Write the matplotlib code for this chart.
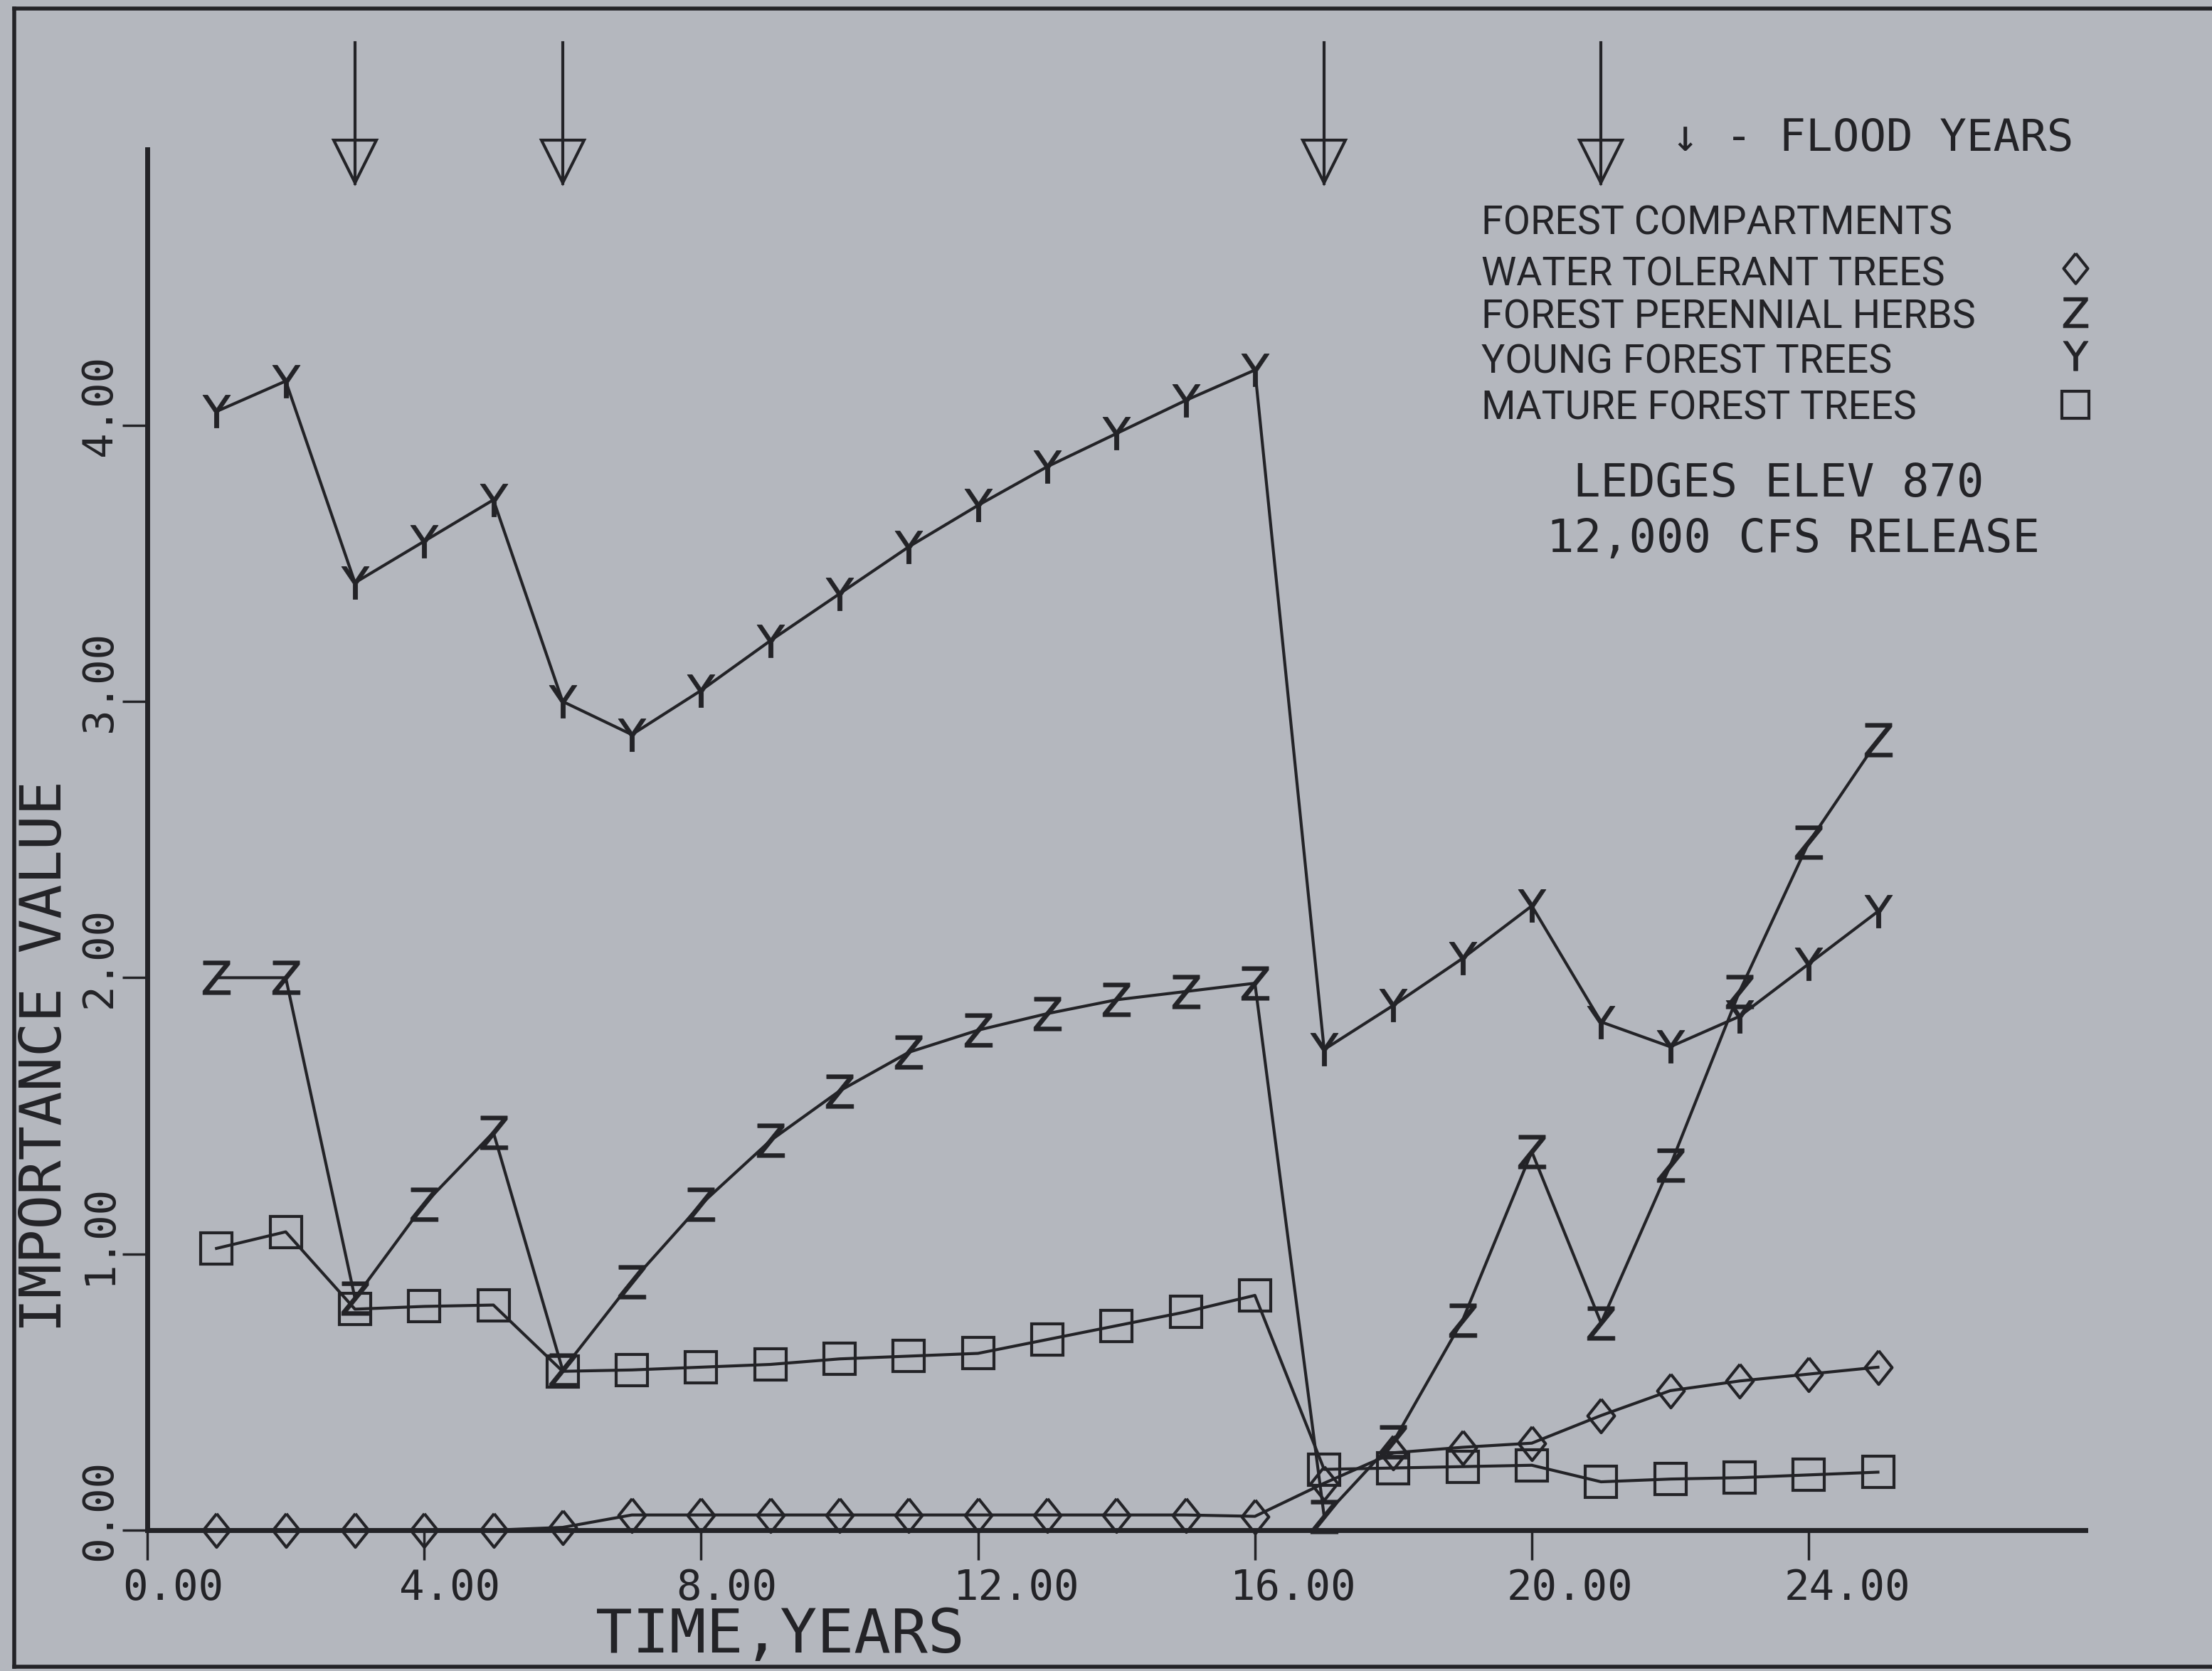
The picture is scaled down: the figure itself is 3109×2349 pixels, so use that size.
import matplotlib
matplotlib.use("Agg")
import matplotlib.pyplot as plt
from matplotlib.transforms import ScaledTranslation
from matplotlib.lines import Line2D

# ---------------- data ----------------
years = list(range(1, 26))
water_tolerant = [0.0, 0.0, 0.0, 0.0, 0.0, 0.01, 0.055, 0.055, 0.055, 0.055,
                  0.055, 0.055, 0.055, 0.055, 0.055, 0.05, 0.17, 0.28, 0.30, 0.315,
                  0.415, 0.505, 0.54, 0.565, 0.59]
perennial_herbs = [2.00, 2.00, 0.84, 1.18, 1.44, 0.58, 0.90, 1.18, 1.41, 1.59,
                   1.73, 1.81, 1.87, 1.92, 1.95, 1.98, 0.05, 0.32, 0.76, 1.37,
                   0.75, 1.32, 1.95, 2.49, 2.86]
young_trees = [4.05, 4.16, 3.43, 3.58, 3.73, 3.00, 2.88, 3.04, 3.22, 3.39,
               3.56, 3.71, 3.85, 3.97, 4.09, 4.20, 1.74, 1.90, 2.07, 2.26,
               1.84, 1.75, 1.86, 2.05, 2.24]
mature_trees = [1.02, 1.08, 0.80, 0.81, 0.815, 0.575, 0.58, 0.59, 0.60, 0.62,
                0.63, 0.64, 0.69, 0.74, 0.79, 0.85, 0.22, 0.225, 0.23, 0.235,
                0.175, 0.185, 0.19, 0.20, 0.21]
flood_years = [3, 6, 17, 21]

x_ticks = [0, 4, 8, 12, 16, 20, 24]
x_tick_labels = ["0.00", "4.00", "8.00", "12.00", "16.00", "20.00", "24.00"]
y_ticks = [0, 1, 2, 3, 4]
y_tick_labels = ["0.00", "1.00", "2.00", "3.00", "4.00"]

legend_title = "FOREST COMPARTMENTS"
legend_labels = ["WATER TOLERANT TREES", "FOREST PERENNIAL HERBS",
                 "YOUNG FOREST TREES", "MATURE FOREST TREES"]

# ---------------- style ----------------
BG = "#b4b7be"
INK = "#232327"
MONO = "DejaVu Sans Mono"
NARROW = ["Roboto", "DejaVu Sans"]

W, H = 3109, 2349
DPI = 100


def fx(px):
    return px / W


def fy(py):
    return 1 - py / H


fig = plt.figure(figsize=(W / DPI, H / DPI), dpi=DPI, facecolor=BG)
ax = fig.add_axes([fx(207), fy(2151), fx(2931.4) - fx(207), fy(209.5) - fy(2151)])
ax.set_facecolor(BG)
ax.patch.set_visible(False)

diamond = [(0, 1), (0.8, 0), (0, -1), (-0.8, 0), (0, 1)]
series = [
    (water_tolerant, diamond, 34),
    (perennial_herbs, r"$\mathrm{Z}$", 34),
    (young_trees, r"$\mathrm{Y}$", 33),
    (mature_trees, "s", 31),
]
for vals, mk, ms in series:
    is_text = isinstance(mk, str) and mk.startswith("$")
    ax.plot(years, vals, color=INK, lw=3.0, zorder=3)
    ax.plot(years, vals, linestyle="none", marker=mk, ms=ms,
            mfc=INK if is_text else "none", mec=INK,
            mew=0.6 if is_text else 3.0, zorder=4, clip_on=False)

ax.set_xlim(0, 28)
ax.set_ylim(0, 5)

# flood arrows
for f in flood_years:
    ax.plot([f, f], [5.385, 4.875], color=INK, lw=3.0, clip_on=False)
    ax.plot([f], [4.955], marker="v", ms=43, mfc="none", mec=INK, mew=3.0,
            linestyle="none", clip_on=False)

# axes
for s in ["top", "right"]:
    ax.spines[s].set_visible(False)
for s in ["left", "bottom"]:
    ax.spines[s].set_linewidth(5)
    ax.spines[s].set_color(INK)

ax.set_xticks(x_ticks)
ax.set_xticklabels(x_tick_labels, fontfamily=MONO, fontsize=42.5, color=INK)
ax.set_yticks(y_ticks)
ax.set_yticklabels(y_tick_labels, fontfamily=MONO, fontsize=42.5, color=INK)
ax.tick_params(axis="x", direction="out", length=30, width=2.5, color=INK, pad=8)
ax.tick_params(axis="y", direction="out", length=25, width=2.5, color=INK, pad=3)

xoff = ScaledTranslation(-35 / DPI, 0, fig.dpi_scale_trans)
for lab in ax.get_xticklabels():
    lab.set_horizontalalignment("left")
    lab.set_transform(lab.get_transform() + xoff)
yoff = ScaledTranslation(0, 28 / DPI, fig.dpi_scale_trans)
for lab in ax.get_yticklabels():
    lab.set_rotation(90)
    lab.set_verticalalignment("center")
    lab.set_horizontalalignment("right")
    lab.set_transform(lab.get_transform() + yoff)

# axis labels
fig.text(fx(64), fy(1485), "IMPORTANCE VALUE", rotation=90, ha="center",
         va="center", fontsize=58, fontfamily=MONO, color=INK)
fig.text(fx(1096), fy(2323), "TIME,YEARS", ha="center", va="baseline",
         fontsize=62, fontfamily=MONO, color=INK)

# legend / annotations
fig.text(fx(2350), fy(212), "\u2193 - FLOOD YEARS", ha="left", va="baseline",
         fontsize=45, fontfamily=MONO, color=INK)
fig.text(fx(2082), fy(330), legend_title, ha="left", va="baseline",
         fontsize=40, fontfamily=NARROW, color=INK)
base_lines = [401, 461, 524, 589]
sym_y = [377, 439, 500, 569]
for lbl, by, sy, (vals, mk, ms) in zip(legend_labels, base_lines, sym_y, series):
    fig.text(fx(2082), fy(by), lbl, ha="left", va="baseline",
             fontsize=40, fontfamily=NARROW, color=INK)
    is_text = isinstance(mk, str) and mk.startswith("$")
    ax.plot([fx(2917)], [fy(sy)], transform=fig.transFigure, linestyle="none",
            marker=mk, ms=ms * 0.9, mfc=INK if is_text else "none", mec=INK,
            mew=0.6 if is_text else 3.0, clip_on=False)

fig.text(fx(2500), fy(698), "LEDGES ELEV 870", ha="center", va="baseline",
         fontsize=46, fontfamily=MONO, color=INK)
fig.text(fx(2520), fy(776), "12,000 CFS RELEASE", ha="center", va="baseline",
         fontsize=46, fontfamily=MONO, color=INK)

# scan frame
frame_kw = dict(transform=fig.transFigure, color=INK, lw=4)
fig.add_artist(Line2D([fx(20), fx(20)], [fy(12), fy(2343)], **frame_kw))
fig.add_artist(Line2D([fx(20), 1.0], [fy(12), fy(12)], **frame_kw))
fig.add_artist(Line2D([fx(20), 1.0], [fy(2343), fy(2343)], **frame_kw))

fig.savefig("out.png", dpi=DPI, facecolor=BG)
